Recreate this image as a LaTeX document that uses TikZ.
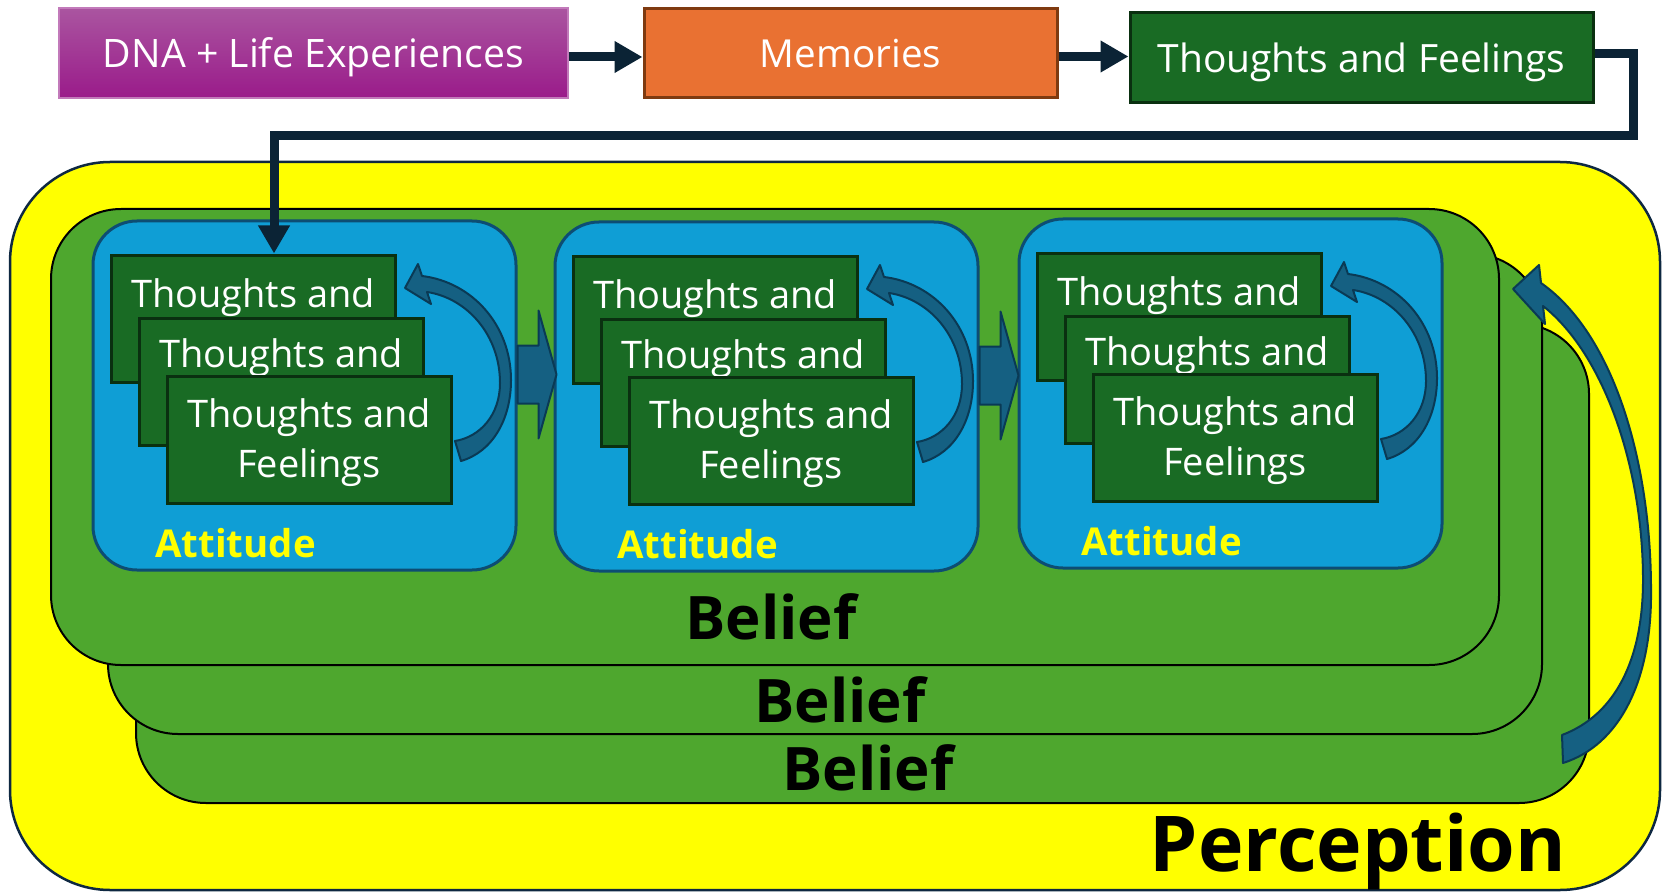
\documentclass[tikz,border=0pt]{standalone}
\usepackage{fontspec}
\setmainfont{Open Sans}
\usetikzlibrary{arrows.meta,calc}
\definecolor{navy}{HTML}{0B2335}
\definecolor{perc}{HTML}{FFFF00}
\definecolor{percline}{HTML}{0E2841}
\definecolor{belief}{HTML}{4EA72E}
\definecolor{attfill}{HTML}{0F9ED5}
\definecolor{attline}{HTML}{0D4D73}
\definecolor{tffill}{HTML}{196B24}
\definecolor{tfline}{HTML}{0A3010}
\definecolor{orange}{HTML}{E97132}
\definecolor{orangeline}{HTML}{7F3A10}
\definecolor{purpletop}{HTML}{AA55A0}
\definecolor{purplebot}{HTML}{9A1B8A}
\definecolor{purpleline}{HTML}{C27ABA}
\definecolor{curlfill}{HTML}{156082}
\definecolor{curlline}{HTML}{0A3A55}
\tikzset{
  topbox/.style={draw, line width=1.5pt, text=white, inner sep=0pt, text depth=0pt},
  conn/.style={draw=navy, line width=4.5pt, -{Triangle[length=14pt,width=15pt]}},
  percbox/.style={draw=percline, fill=perc, line width=1.25pt, rounded corners=50pt, inner sep=0pt},
  beliefbox/.style={draw=black, fill=belief, line width=1pt, rounded corners=35pt, inner sep=0pt},
  attbox/.style={draw=attline, fill=attfill, line width=1.5pt, rounded corners=22pt, inner sep=0pt,
    minimum width=211.5pt, minimum height=174.5pt},
  tfbox/.style={draw=tfline, fill=tffill, line width=1.5pt, inner sep=0pt,
    minimum width=142pt, minimum height=63.5pt},
  tftext/.style={anchor=base, text=white, inner sep=0pt, font=\fontsize{19}{22}\selectfont},
  atttext/.style={anchor=base, text=perc, inner sep=0pt, font=\bfseries\fontsize{19.2}{22}\selectfont},
  belieftext/.style={anchor=base, text=black, inner sep=0pt, font=\bfseries\fontsize{30}{34}\selectfont},
  curl/.style={fill=curlfill, draw=curlline, line width=1pt, line join=round},
}
\newcommand{\attgroup}[3]{%
  \begin{scope}[shift={(#2,#3)}]
    \node[attbox] (att#1) at (304.5,395.5) {};
    \node[tfbox] (tf#1a) at (253,318.5) {};
    \node[tftext] (tf#1at) at (253,307) {Thoughts and};
    \node[tfbox] (tf#1b) at (281,382) {};
    \node[tftext] (tf#1bt) at (281,367) {Thoughts and};
    \node[tfbox] (tf#1c) at (309,440) {};
    \node[tftext] (tf#1ct) at (309,427) {Thoughts and};
    \node[tftext] (tf#1cf) at (309,477) {Feelings};
    \node[atttext] (att#1t) at (235.5,557) {Attitude};
    \filldraw[curl] (461,461) .. controls (492,452) and (511,420) .. (511,380)
      .. controls (511,325) and (472,282) .. (422,276) -- (418,264) -- (405,288)
      -- (431,304) -- (427,292) .. controls (467,298) and (500,335) .. (500,383)
      .. controls (500,415) and (480,437) .. (455,441) -- cycle;
  \end{scope}}
\newcommand{\blockarrow}[1]{%
  \begin{scope}[shift={($(#1.east)+(0,-21)$)}]
    \filldraw[curl] (0,-29) -- (21,-29) -- (21,-64) -- (39,0) -- (21,64) -- (21,29) -- (0,29) -- cycle;
  \end{scope}}
\begin{document}
\begin{tikzpicture}[x=0.5pt,y=-0.5pt]
  \fill[white] (0,0) rectangle (1663,893);
  \path[use as bounding box] (0,0) rectangle (1663,893);

  % top row
  \node[topbox, draw=purpleline, line width=0.75pt, top color=purpletop, bottom color=purplebot,
        minimum width=254.5pt, minimum height=45pt, font=\fontsize{19.6}{22}\selectfont]
        (dna) at (313.5,53) {DNA + Life Experiences};
  \node[topbox, draw=orangeline, fill=orange, minimum width=206.5pt, minimum height=44.5pt,
        font=\fontsize{19.3}{22}\selectfont] (mem) at (850.5,53.5) {Memories};
  \node[topbox, draw=tfline, fill=tffill, minimum width=231.5pt, minimum height=45pt,
        font=\fontsize{19.5}{22}\selectfont] (tftop) at (1361.5,58) {Thoughts and Feelings};
  \draw[conn] ([yshift=-2pt]dna.east) -- ([yshift=-2pt]dna.east -| mem.west);
  \draw[conn] ([yshift=-1.5pt]mem.east) -- ([yshift=-1.5pt]mem.east -| tftop.west);

  % perception and beliefs
  \node[percbox, minimum width=825pt, minimum height=364pt] (perception) at (835,526) {};
  \node[beliefbox, minimum width=726.5pt, minimum height=239.5pt] (belief3) at (862.5,563.5) {};
  \node[beliefbox, minimum width=717pt, minimum height=240pt] (belief2) at (825,494) {};
  \node[beliefbox, minimum width=724pt, minimum height=228pt] (belief1) at (775,437) {};
  \node[belieftext] (b1t) at (771,639) {Belief};
  \node[belieftext] (b2t) at (840,722) {Belief};
  \node[belieftext] (b3t) at (868,790) {Belief};

  % attitudes
  \attgroup{1}{0}{0}
  \attgroup{2}{462}{1}
  \attgroup{3}{926}{-2}
  \blockarrow{att1}
  \blockarrow{att2}

  % big loop arrow
  \filldraw[curl] (1563,763) .. controls (1620,745) and (1652,680) .. (1651,590)
    .. controls (1651,465) and (1615,335) .. (1541,283) -- (1539,265) -- (1513,289)
    -- (1545,324) -- (1543,306) .. controls (1605,355) and (1643,470) .. (1643,580)
    .. controls (1643,660) and (1615,715) .. (1562,735) -- cycle;

  % connector from top thoughts to first attitude
  \coordinate (k1) at (1633,53.5);
  \coordinate (k2) at (1633,136);
  \coordinate (k3) at (274,136);
  \draw[conn] (tftop.east |- k1) -- (k1) -- (k2) -- (k3) -- (k3 |- tf1a.north);

  \node[anchor=base, inner sep=0pt, font=\bfseries\fontsize{38.5}{42}\selectfont] (perctext) at (1358,871) {Perception};
\end{tikzpicture}
\end{document}
